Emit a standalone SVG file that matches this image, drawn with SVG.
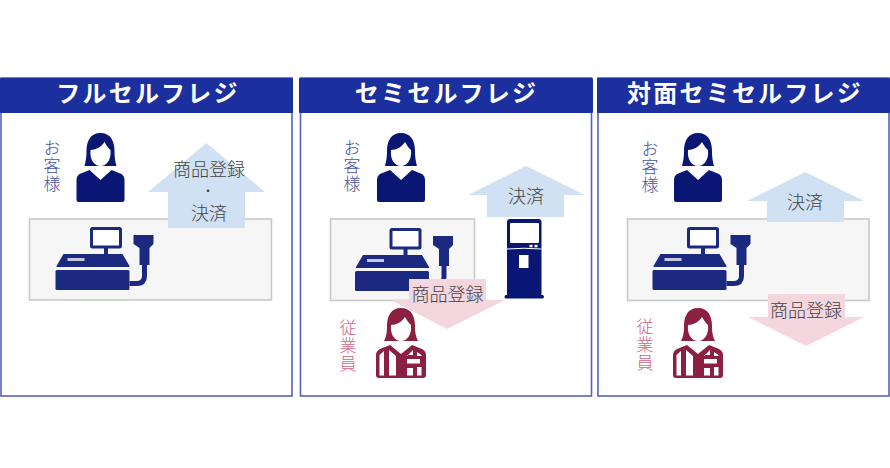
<svg xmlns="http://www.w3.org/2000/svg" xmlns:xlink="http://www.w3.org/1999/xlink" width="890" height="468" viewBox="0 0 890 468">
<style>
text{font-family:"Noto Sans CJK JP","Noto Sans",sans-serif}
.panel{fill:#fff;stroke:#5463bb;stroke-width:1.6}
.head{fill:#1c2f9e}
.title{fill:#fff;font-size:24px;font-weight:700;letter-spacing:2.2px;text-anchor:middle}
.counter{fill:#f6f6f6;stroke:#c9c9c9;stroke-width:1.6}
.up{fill:#cfe1f3}
.down{fill:#f3d6de}
.lbl{fill:#444;font-size:18px;font-weight:300;text-anchor:middle}
.dot{fill:#444;font-size:12px;text-anchor:middle}
.cust{fill:#47529e;font-size:17px;font-weight:300;writing-mode:vertical-rl;letter-spacing:1px}
.staff{fill:#cf6585;font-size:17px;font-weight:300;writing-mode:vertical-rl;letter-spacing:1px}
</style>
<defs>
<g id="register">
<rect x="36" y="1.500" width="29" height="18.500" fill="#fff" stroke="#1b2a80" stroke-width="3" rx="1"/>
<rect x="48.500" y="20" width="4" height="7" fill="#1b2a80"/>
<path d="M8 27H67L74 39V40H1V39Z" fill="#1b2a80"/>
<rect x="12" y="31" width="17" height="3" fill="#fff" opacity=".75"/>
<rect x="0" y="43" width="74" height="20" rx="1.500" fill="#1b2a80"/>
<path d="M89 36V49Q89 56.500 81 56.500H74" fill="none" stroke="#1b2a80" stroke-width="5"/>
<path d="M78 8H98V17L94 21V38H84V21L78 17Z" fill="#1b2a80"/>
</g>
<g id="customer">
<path d="M24 0C14 0 10 8 10 18C10 25 9 29 8 33H40C39 29 38 25 38 18C38 8 34 0 24 0Z" fill="#0a1673"/>
<path d="M14 17C19 17 25 14 28 9C30 13 33 16 34 17C35 27 30 33 24 33C18 33 13 27 14 17Z" fill="#fff"/>
<path d="M13 37L24 47L35 37L45 41Q48 43 48 47V67Q48 69 46 69H2Q0 69 0 67V47Q0 43 3 41Z" fill="#0a1673"/>
</g>
<g id="staff-icon">
<path d="M25 0C15 0 11 8 11 18C11 25 10 29 8 33H42C40 29 39 25 39 18C39 8 35 0 25 0Z" fill="#8b2040"/>
<path d="M15 17C20 17 26 14 29 9C31 13 34 16 35 17C36 27 31 33 25 33C19 33 14 27 15 17Z" fill="#fff"/>
<path d="M14 37L25 46L36 37L46 41Q50 43 50 47V67Q50 70 47 70H3Q0 70 0 67V47Q0 43 4 41Z" fill="#8b2040"/>
<path d="M3.500 47L8 43V67.500H3.500ZM13 42L20 48V67.500H13ZM31 60H37V67.500H31ZM31 48L37 42V47H31ZM41 44L45.500 47V67.500H41Z" fill="#fff"/>
<rect x="28" y="48" width="18.500" height="11" rx="1" fill="#8b2040"/>
<rect x="31" y="51" width="13" height="4.500" fill="#fff"/>
</g>
</defs>

<g id="panel-full">
<rect class="panel" x="1" y="78" width="291" height="318"/>
<rect class="head" x="0" y="78" width="293" height="35" rx="1"/>
<text class="title" x="148" y="102">フルセルフレジ</text>
<rect class="counter" x="29.500" y="219" width="242" height="81"/>
</g>
<g id="panel-semi">
<rect class="panel" x="300.500" y="78" width="291" height="318"/>
<rect class="head" x="299" y="78" width="294" height="35" rx="1"/>
<text class="title" x="446.500" y="102">セミセルフレジ</text>
<rect class="counter" x="330.500" y="219" width="144" height="81.500"/>
</g>
<g id="panel-face">
<rect class="panel" x="598" y="78" width="291" height="318"/>
<rect class="head" x="597" y="78" width="293" height="35" rx="1"/>
<text class="title" x="745" y="102">対面セミセルフレジ</text>
<rect class="counter" x="627.500" y="219" width="241.500" height="81.500"/>
</g>

<g id="register-1"><use href="#register" x="55.500" y="227"/></g>
<g id="register-2"><use href="#register" x="355" y="228"/></g>
<g id="register-3"><use href="#register" x="652.500" y="227"/></g>

<g id="connectors">
<path class="up" d="M206.500 143L265 192H245V228H168V192H148Z"/>
<path class="up" d="M526 166L585 195H564V217H487V195H468Z"/>
<path class="up" d="M805.500 172L864 201H844V222H767V201H747Z"/>
<path class="down" d="M409 279H486V300H505L447 329L391 300H409Z"/>
<path class="down" d="M768 294H845V317H864L806 346L748 317H768Z"/>
</g>

<g id="customer-1"><use href="#customer" x="76.500" y="133"/><text class="cust" x="52" y="139">お客様</text></g>
<g id="customer-2"><use href="#customer" x="377" y="133"/><text class="cust" x="352" y="139">お客様</text></g>
<g id="kiosk">
<path d="M510 219H538.500Q541.500 219 541.500 222V295H543Q545 297 543 298.500H505.500Q503.500 297 505.500 295H507V222Q507 219 510 219Z" fill="#0a1673"/>
<rect x="510" y="223" width="29" height="20" rx="1" fill="#fff"/>
<rect x="529.500" y="244.800" width="3" height="2.500" fill="#fff"/>
<rect x="534.500" y="244.800" width="3" height="2.500" fill="#fff"/>
<path d="M507 249Q524 247.500 541.500 249" fill="none" stroke="#fff" stroke-width="1"/>
<rect x="519" y="255" width="9.500" height="13" fill="#fff"/>
</g>
<g id="staff-2"><use href="#staff-icon" x="376" y="308"/><text class="staff" x="348" y="319">従業員</text></g>
<g id="customer-3"><use href="#customer" x="674" y="133"/><text class="cust" x="650" y="140">お客様</text></g>
<g id="staff-3"><use href="#staff-icon" x="673" y="308"/><text class="staff" x="645" y="318">従業員</text></g>

<g id="labels">
<text class="lbl" x="209" y="176">商品登録</text>
<text class="dot" x="208" y="196">・</text>
<text class="lbl" x="209" y="220">決済</text>
<text class="lbl" x="526" y="203">決済</text>
<text class="lbl" x="447.500" y="301">商品登録</text>
<text class="lbl" x="805" y="209">決済</text>
<text class="lbl" x="806" y="317">商品登録</text>
</g>
</svg>
